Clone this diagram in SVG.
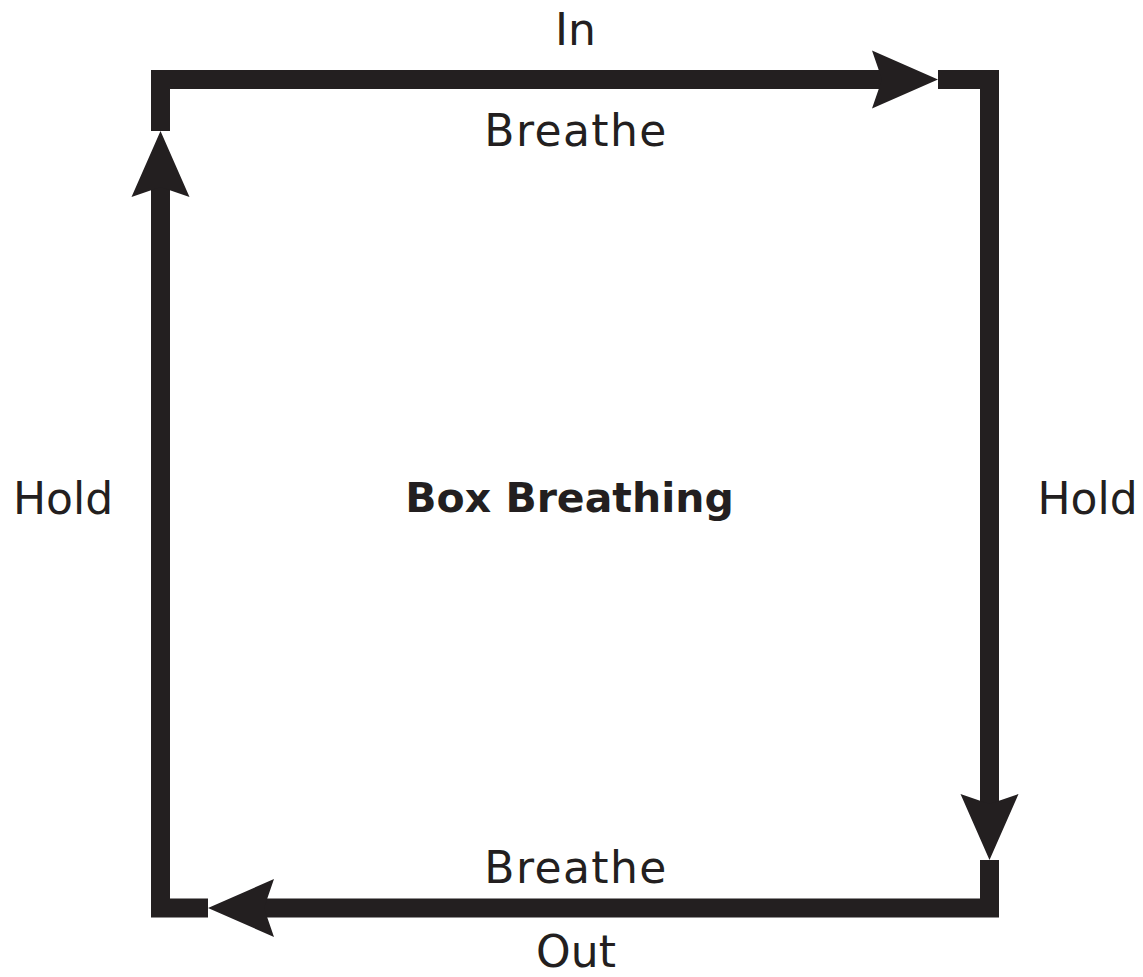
<svg xmlns="http://www.w3.org/2000/svg" width="1143" height="977" viewBox="0 0 1143 977">
<style>
.ln{fill:none;stroke:#231f20;stroke-width:19;stroke-linejoin:miter;stroke-linecap:butt}
.ah{fill:#231f20}
.lbl{font-family:"DejaVu Sans",sans-serif;font-size:44px;fill:#231f20;text-anchor:middle}
.wide{letter-spacing:1.4px}
.title{font-family:"DejaVu Sans",sans-serif;font-size:41px;font-weight:bold;fill:#231f20;text-anchor:middle}
</style>
<rect width="1143" height="977" fill="#ffffff"/>
<g id="connectors">
<path class="ln" d="M160.5,131 V79.5 H884"/>
<path class="ah" d="M938,79.5 L872,50.5 L882,79.5 L872,108.5 Z"/>
<path class="ln" d="M938,79.5 H989.5 V806"/>
<path class="ah" d="M989.5,860 L960.5,794 L989.5,804 L1018.5,794 Z"/>
<path class="ln" d="M989.5,860 V908 H262"/>
<path class="ah" d="M208,908 L274,879 L264,908 L274,937 Z"/>
<path class="ln" d="M208,908 H160.5 V185"/>
<path class="ah" d="M160.5,131 L131.5,197 L160.5,187 L189.5,197 Z"/>
</g>
<g id="label-in"><text class="lbl" x="575.5" y="45">In</text></g>
<g id="label-breathe-top"><text class="lbl wide" x="576" y="146">Breathe</text></g>
<g id="label-hold-left"><text class="lbl" x="63" y="514">Hold</text></g>
<g id="label-hold-right"><text class="lbl" x="1087.5" y="514">Hold</text></g>
<g id="title"><text class="title" x="569.5" y="512">Box Breathing</text></g>
<g id="label-breathe-bottom"><text class="lbl wide" x="576" y="883">Breathe</text></g>
<g id="label-out"><text class="lbl" x="576" y="967">Out</text></g>
</svg>
